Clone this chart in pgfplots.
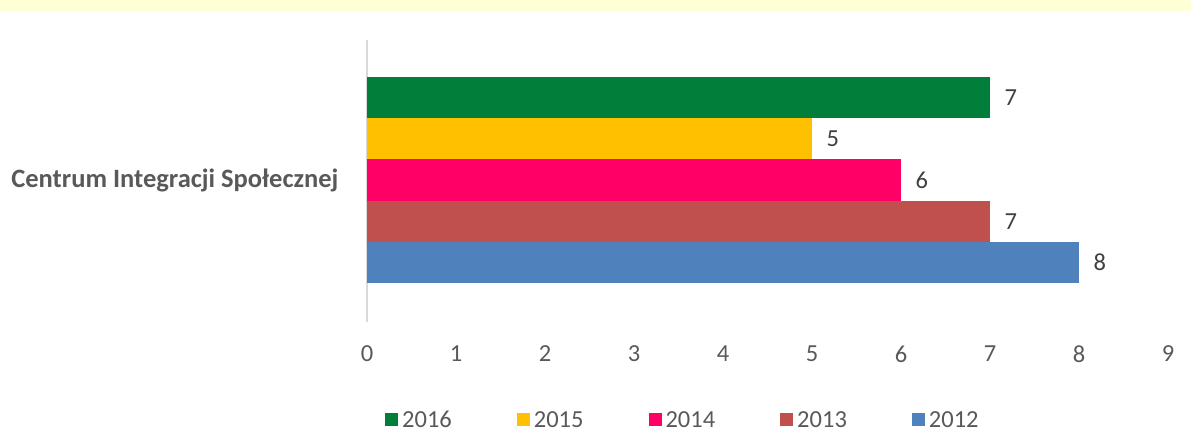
\documentclass[border=0pt]{standalone}
\usepackage{fontspec}
\setmainfont{Carlito}
\usepackage{pgfplots}
\pgfplotsset{compat=1.18}
\definecolor{bgy}{HTML}{FFFFD5}
\definecolor{c16}{HTML}{007E3A}
\definecolor{c15}{HTML}{FFC000}
\definecolor{c14}{HTML}{FF0066}
\definecolor{c13}{HTML}{C0504D}
\definecolor{c12}{HTML}{4F81BD}
\definecolor{txt}{HTML}{595959}
\definecolor{lbl}{HTML}{404040}
\definecolor{axl}{HTML}{D9D9D9}
\begin{document}
\begin{tikzpicture}[x=1pt,y=1pt]
\path[use as bounding box] (0,0) rectangle (1191,436);
\fill[bgy] (0,425) rectangle (1191,436);
\begin{axis}[
  at={(367pt,114pt)}, anchor=south west,
  scale only axis, width=801pt, height=282pt,
  xmin=0, xmax=9, ymin=-0.447, ymax=6.40,
  axis x line*=bottom, x axis line style={draw=none},
  axis y line*=left, y axis line style={draw=axl, line width=1.6pt},
  major tick length=0pt,
  xtick={0,1,...,9},
  ytick={3}, yticklabels={\textbf{Centrum Integracji Społecznej}},
  tick label style={font=\fontsize{24.5}{29}\selectfont, text=txt},
  /pgf/number format/assume math mode=true,
  xticklabel style={yshift=-20pt},
  yticklabel style={font=\fontsize{26.5}{31}\selectfont\bfseries, xshift=-25pt},
  xbar, bar width=1, bar shift=0pt,
  nodes near coords,
  every node near coord/.append style={font=\fontsize{24.5}{29}\selectfont, text=lbl, anchor=west, xshift=11pt},
  legend columns=5,
  legend cell align=left,
  legend style={draw=none, fill=none, inner sep=0pt, at={(0.0225,-0.3475)}, anchor=west,
    font=\fontsize{24.5}{28}\selectfont, text=txt,
    /tikz/every odd column/.append style={column sep=2pt},
    /tikz/every even column/.append style={column sep=63pt}},
  legend image code/.code={\fill[#1] (0pt,-6.5pt) rectangle (13pt,6.5pt);},
  clip=false,
]
\addplot[fill=c16, draw=none] coordinates {(7,5)};
\addplot[fill=c15, draw=none] coordinates {(5,4)};
\addplot[fill=c14, draw=none] coordinates {(6,3)};
\addplot[fill=c13, draw=none] coordinates {(7,2)};
\addplot[fill=c12, draw=none] coordinates {(8,1)};
\legend{2016,2015,2014,2013,2012}
\end{axis}
\end{tikzpicture}
\end{document}
